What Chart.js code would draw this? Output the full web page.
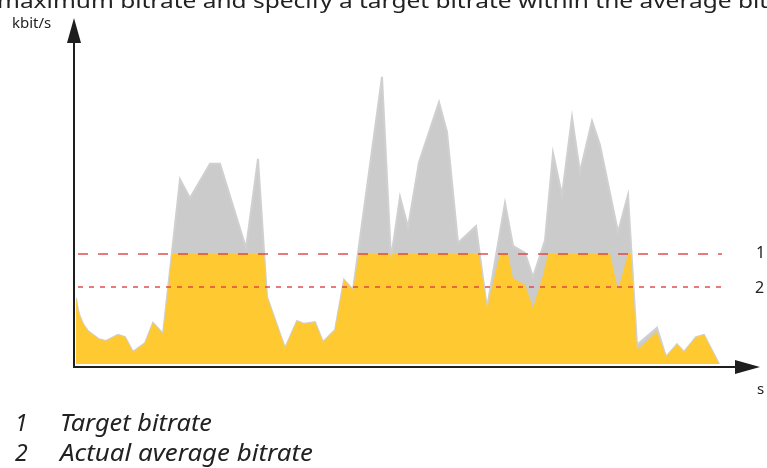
<!DOCTYPE html>
<html>
<head>
<meta charset="utf-8">
<script src="https://cdn.jsdelivr.net/npm/chart.js@4"></script>
<style>
  html, body { margin:0; padding:0; background:#fff; }
  body { width:767px; height:468px; overflow:hidden; position:relative; font-family:"Noto Sans", sans-serif; color:#222; }
  #wrap { position:absolute; left:0; top:0; width:767px; height:468px; }
  .t { position:absolute; white-space:nowrap; line-height:1; }
  #head { left:-3px; top:-9px; font-size:20px; transform-origin:0 0; }
  #ylab { left:12px; top:15px; font-size:15px; }
  #xlab { left:757px; top:381px; font-size:15px; }
  #l1 { left:756px; top:244px; font-size:16px; }
  #l2 { left:755px; top:279px; font-size:16px; }
  .leg { font-style:italic; font-size:23px; }
  #n1 { left:15px; top:411px; }
  #n2 { left:15px; top:441px; }
  #k1 { left:60px; top:411px; transform-origin:0 0; }
  #k2 { left:60px; top:441px; transform-origin:0 0; }
</style>
</head>
<body>
<div id="wrap"><canvas id="c"></canvas></div>
<div class="t" id="head"><span id="headA">maximum bitrate and specify a target bitrate within the average </span><span>bitrate</span></div>
<div class="t" id="ylab">kbit/s</div>
<div class="t" id="xlab">s</div>
<div class="t" id="l1">1</div>
<div class="t" id="l2">2</div>
<div class="t leg" id="n1">1</div>
<div class="t leg" id="n2">2</div>
<div class="t leg" id="k1">Target bitrate</div>
<div class="t leg" id="k2">Actual average bitrate</div>
<script>
// time (s) and bitrate (kbit/s) of the actual stream (grey)
const actualTime = [0, 0.2, 0.4, 0.7, 1.2, 1.7, 2.3, 3.0, 4.2, 4.9, 5.7, 6.9, 7.7, 8.7, 10.4, 11.4, 13.4, 14.4, 17.0, 18.2, 19.1, 20.9, 22.1, 22.8, 23.9, 24.7, 25.9, 26.8, 27.7, 30.6, 31.5, 32.4, 33.2, 34.3, 36.3, 37.1, 38.2, 40.0, 41.1, 42.9, 43.7, 44.9, 45.7, 46.9, 47.7, 48.6, 49.6, 50.4, 51.6, 52.4, 54.2, 55.2, 56.1, 58.1, 59.0, 60.1, 60.8, 62.0, 62.8, 64.3];
const actualRate = [600, 490, 430, 365, 300, 265, 225, 210, 265, 245, 110, 190, 375, 275, 1680, 1510, 1820, 1820, 1055, 1865, 610, 145, 390, 365, 380, 200, 310, 765, 675, 2610, 955, 1520, 1245, 1835, 2380, 2110, 1100, 1255, 510, 1465, 1075, 1010, 790, 1125, 1920, 1535, 2245, 1745, 2210, 1990, 1200, 1535, 175, 330, 65, 180, 110, 245, 265, 0];
// time (s) and bitrate (kbit/s) kept within the target (yellow)
const limitedTime = [0, 0.2, 0.4, 0.7, 1.2, 1.7, 2.3, 3.0, 4.2, 4.9, 5.7, 6.9, 7.7, 8.7, 9.6, 18.8, 19.1, 20.9, 22.1, 22.8, 23.9, 24.7, 25.9, 26.8, 27.7, 28.3, 31.4, 31.5, 31.6, 40.3, 41.1, 42.4, 43.2, 43.7, 44.9, 45.7, 46.7, 47.2, 53.4, 54.2, 55.2, 55.5, 56.1, 58.1, 59.0, 60.1, 60.8, 62.0, 62.8, 64.3];
const limitedRate = [600, 490, 430, 365, 300, 265, 225, 210, 265, 245, 110, 190, 375, 275, 1000, 1000, 610, 145, 390, 365, 380, 200, 310, 765, 675, 1000, 1000, 955, 1000, 1000, 510, 1000, 1000, 780, 720, 510, 810, 1000, 1000, 675, 1000, 1000, 130, 290, 65, 180, 110, 245, 265, 0];
const targetBitrate = 1000;
const averageBitrate = 700;
const lineSpan = [0.2, 64.6];

const pts = (xs, ys) => xs.map((x, i) => ({x, y: ys[i]}));

const axesPlugin = {
  id: 'arrowAxes',
  afterDraw(chart) {
    const ctx = chart.ctx;
    ctx.save();
    ctx.strokeStyle = '#1e1e1e';
    ctx.fillStyle = '#1e1e1e';
    ctx.lineWidth = 2;
    ctx.beginPath();
    ctx.moveTo(74, 40); ctx.lineTo(74, 368);
    ctx.moveTo(73, 367); ctx.lineTo(740, 367);
    ctx.stroke();
    ctx.beginPath();
    ctx.moveTo(74, 18); ctx.lineTo(81, 43); ctx.lineTo(67, 43); ctx.closePath();
    ctx.fill();
    ctx.beginPath();
    ctx.moveTo(760, 367); ctx.lineTo(735, 360); ctx.lineTo(735, 374); ctx.closePath();
    ctx.fill();
    ctx.restore();
  }
};

new Chart(document.getElementById('c'), {
  type: 'line',
  data: {
    datasets: [
      { label: 'target', data: pts(lineSpan, [targetBitrate, targetBitrate]), borderColor: 'rgba(220,60,60,0.9)', borderWidth: 1.5, borderDash: [10, 10], pointRadius: 0, fill: false, order: 0 },
      { label: 'average', data: pts(lineSpan, [averageBitrate, averageBitrate]), borderColor: 'rgba(220,60,60,0.9)', borderWidth: 1.5, borderDash: [5, 6], pointRadius: 0, fill: false, order: 0 },
      { label: 'limited', data: pts(limitedTime, limitedRate), backgroundColor: '#fec931', borderWidth: 0, borderColor: 'rgba(0,0,0,0)', pointRadius: 0, tension: 0, fill: 'origin', order: 1 },
      { label: 'actual', data: pts(actualTime, actualRate), backgroundColor: '#cbcbcb', borderColor: '#d0d0d0', borderWidth: 2, pointRadius: 0, tension: 0, fill: 'origin', order: 2 }
    ]
  },
  options: {
    responsive: true,
    maintainAspectRatio: false,
    animation: false,
    layout: { padding: { left: 76, right: 31, top: 34, bottom: 104 } },
    plugins: { legend: { display: false }, tooltip: { enabled: false } },
    scales: {
      x: { type: 'linear', min: 0, max: 66, display: false },
      y: { min: 0, max: 3000, display: false }
    }
  },
  plugins: [axesPlugin]
});

// fit text widths to the layout
function fitWidth(el, measureEl, target) {
  const w = measureEl.getBoundingClientRect().width;
  if (w > 0) el.style.transform = 'scaleX(' + (target / w) + ')';
}
fitWidth(document.getElementById('head'), document.getElementById('headA'), 741);
fitWidth(document.getElementById('k1'), document.getElementById('k1'), 152);
fitWidth(document.getElementById('k2'), document.getElementById('k2'), 253);
</script>
</body>
</html>
